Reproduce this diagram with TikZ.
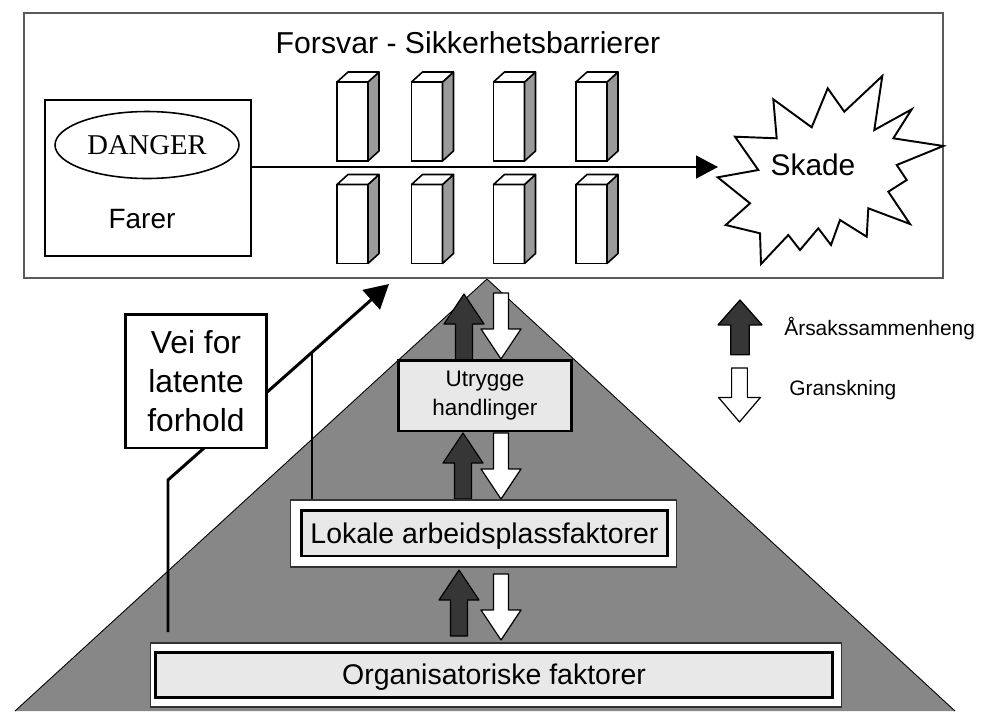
\documentclass[tikz,border=0pt]{standalone}
\usepackage{fontspec}
\setmainfont{Liberation Sans}
\newfontfamily\dangerserif{Liberation Serif}
\usetikzlibrary{shapes.geometric,arrows.meta,calc}

\definecolor{pyramidgray}{HTML}{878787}
\definecolor{boxgray}{HTML}{E8E8E8}
\definecolor{sidegray}{HTML}{9A9A9A}
\definecolor{causedark}{HTML}{363636}
\definecolor{framegray}{HTML}{5A5A5A}

\begin{document}
\begin{tikzpicture}[
  x=0.02cm, y=-0.02cm,
  >={Triangle[length=12.5pt, width=13pt]},
  frame/.style={draw=framegray, line width=0.8pt, fill=white, minimum width=18.38cm, minimum height=5.30cm},
  hazard/.style={draw=black, line width=1.1pt, fill=white, minimum width=4.12cm, minimum height=3.12cm},
  danger/.style={ellipse, draw=black, line width=0.9pt, minimum width=3.68cm, minimum height=1.34cm, inner sep=0pt, font=\dangerserif\fontsize{16.3}{18}\selectfont},
  barrier/.style={draw=black, line width=0.9pt, fill=white, minimum width=0.62cm, minimum height=1.58cm, inner sep=0pt, outer sep=0pt},
  barside/.style={draw=black, line width=0.9pt, fill=sidegray, line join=round},
  bartop/.style={draw=black, line width=0.9pt, fill=white, line join=round},
  band/.style={draw=black!80, line width=0.6pt, fill=white, inner sep=0pt},
  level/.style={draw=black, line width=1.7pt, fill=boxgray, align=center, inner sep=0pt, text depth=0pt},
  latentbox/.style={draw=black, line width=1.7pt, fill=white, minimum width=2.84cm, minimum height=2.68cm, align=center, inner sep=0pt, font=\fontsize{18.1}{22.4}\selectfont},
  legend/.style={font=\fontsize{11.9}{14}\selectfont, inner sep=0pt},
  mainarr/.style={->, line width=1.1pt},
  latentline/.style={line width=1.7pt},
  pics/causeup/.style={code={
    \filldraw[fill=causedark, draw=black, line width=0.7pt, line join=round]
      (0,0) -- (20,30) -- (8.5,30) -- (8.5,66) -- (-8.5,66) -- (-8.5,30) -- (-20,30) -- cycle;}},
  pics/reviewdown/.style={code={
    \filldraw[fill=white, draw=black, line width=0.7pt, line join=round]
      (0,0) -- (20,-30) -- (7.5,-30) -- (7.5,-66) -- (-7.5,-66) -- (-7.5,-30) -- (-20,-30) -- cycle;}}
]
\useasboundingbox (0,0) rectangle (981,711);

%% ============ Pyramid (behind everything) ============
\coordinate (apex)  at (487,279);
\coordinate (baseL) at (15,711);
\coordinate (baseR) at (955,711);
\filldraw[fill=pyramidgray, draw=black, line width=0.5pt] (baseL) -- (apex) -- (baseR);

%% ============ Defences frame: hazard -> barriers -> damage ============
\node[frame] (defence) at (483.5,145.5) {};
\node[font=\fontsize{17.2}{20}\selectfont, anchor=base] (title) at (468,53) {Forsvar - Sikkerhetsbarrierer};

\node[hazard] (hazard) at (148,178) {};
\node[danger] (danger) at (147,145) {DANGER};
\node[font=\fontsize{15.9}{18}\selectfont, anchor=base] (farer) at (142,228) {Farer};

% barriers, two rows of four blocks
\foreach \col/\xc in {1/352.5, 2/427, 3/509, 4/591.5} {
  \foreach \row/\yc in {1/121.5, 2/224} {
    \node[barrier] (bar\row\col) at (\xc,\yc) {};
    \filldraw[barside] (bar\row\col.north east) -- ++(11,-10) -- ($(bar\row\col.south east)+(11,-10)$) -- (bar\row\col.south east) -- cycle;
    \filldraw[bartop] (bar\row\col.north west) -- ++(11,-10) -- ($(bar\row\col.north east)+(11,-10)$) -- (bar\row\col.north east) -- cycle;
  }
}

% damage burst
\filldraw[fill=white, draw=black, line width=1.1pt, line join=miter]
  (717.7,177.3) -- (758.3,170) -- (735,136.7) -- (776.7,138.3) -- (773.3,99.3)
  -- (811.7,127.3) -- (827.7,88.3) -- (844.3,111.7) -- (882.3,76) -- (874.3,130)
  -- (911.7,109.3) -- (893.3,138.3) -- (943.3,146) -- (896.7,165) -- (906.7,180)
  -- (888.3,191.7) -- (910,224) -- (868.3,208.3) -- (866.7,236.7) -- (840,220)
  -- (831,245) -- (818.3,228.3) -- (800,250) -- (788.3,235) -- (761,264)
  -- (760,233.3) -- (725.7,225) -- (750,203.3) -- cycle;
\coordinate (hit) at (718,167);
\node[font=\fontsize{17}{20}\selectfont, anchor=base] (skade) at (813,175) {Skade};

\draw[mainarr] (hazard.east |- hit) -- (hit);

%% ============ Causation / investigation arrows in the pyramid ============
\pic at (464,294) {causeup};
\pic at (501,359) {reviewdown};
\pic at (463,433) {causeup};
\pic at (501,499) {reviewdown};
\pic at (459,570) {causeup};
\pic at (501,640) {reviewdown};

%% ============ Levels ============
\node[level, minimum width=3.48cm, minimum height=1.42cm, font=\fontsize{12.8}{16.4}\selectfont, text depth=] (unsafe) at (485,395.5) {Utrygge\\handlinger};

\node[band, minimum width=7.74cm, minimum height=1.34cm] (lokband) at (483.5,533.5) {};
\node[level, minimum width=7.34cm, minimum height=0.92cm, font=\fontsize{16.2}{19}\selectfont] (local) at (484.5,533) {Lokale arbeidsplassfaktorer};

\node[band, minimum width=13.84cm, minimum height=1.28cm] (orgband) at (496,675) {};
\node[level, minimum width=13.56cm, minimum height=0.9cm, font=\fontsize{16.2}{19}\selectfont] (org) at (494,674.5) {Organisatoriske faktorer};

%% ============ Latent conditions pathway ============
\coordinate (latentfoot) at (168,632);
\coordinate (bend)       at (168,480);
\coordinate (latenttip)  at (389,284);
\coordinate (joint)      at ($(bend)!0.6516!(latenttip)$);
\draw[latentline, -{Triangle[length=13.6pt, width=14.7pt]}] (latentfoot) -- (bend) -- (latenttip);
\draw[latentline] (lokband.north -| joint) -- (joint);

\node[latentbox] (latent) at (196,381) {Vei for\\latente\\forhold};

%% ============ Legend ============
\pic[xscale=1.1, yscale=0.83] at (740,300) {causeup};
\pic[xscale=1.05, yscale=0.82] at (739.5,422) {reviewdown};
\node[legend, anchor=base west] (legcause)  at (784,335) {Årsakssammenheng};
\node[legend, anchor=base west] (legreview) at (789,395) {Granskning};

\end{tikzpicture}
\end{document}
